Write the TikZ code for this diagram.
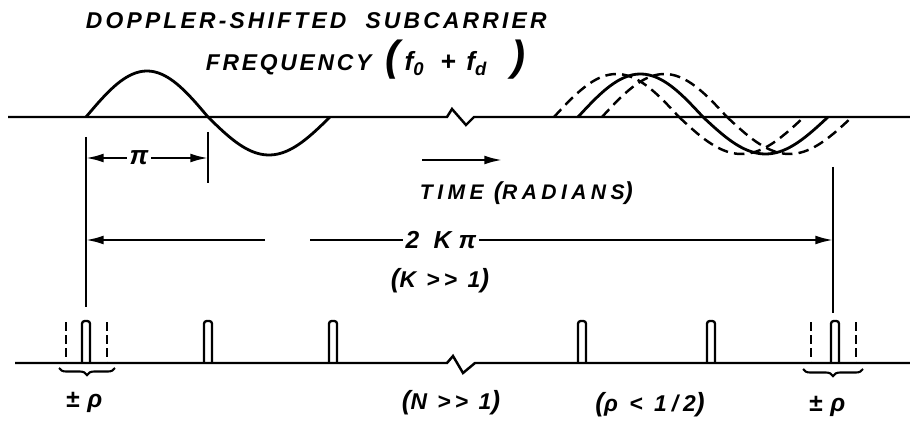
\documentclass[tikz,border=0pt]{standalone}
\usepackage{fontspec}
\setmainfont{Liberation Sans}
\usetikzlibrary{arrows.meta,decorations.pathreplacing}

\begin{document}
\begin{tikzpicture}[x=0.02cm, y=-0.02cm, line width=1.4pt,
  every node/.style={inner sep=1pt, font=\bfseries\itshape\fontsize{13}{15}\selectfont},
  wave/.style={line width=1.6pt},
  ghost/.style={line width=1.4pt, dash pattern=on 6pt off 3.5pt},
  dimline/.style={line width=1.2pt},
  tip/.style={-{Latex[length=10pt,width=5pt]}},
  pulse/.style={line width=1.3pt, rounded corners=1.5pt},
  pbrace/.style={decorate, decoration={brace, mirror, amplitude=4pt}}]
  \useasboundingbox (0,0) rectangle (910,429);

  % Time axis, broken in the middle
  \draw (8,117) -- (447,117) -- (452,109) -- (466,125) -- (474,117) -- (910,117);

  % Subcarrier, first cycle
  % these are plots in degrees, one half cycle each
  \draw[wave] plot[domain=0:180, samples=40] ({86+\x/180*122},{117-46*sin(\x)});
  \draw[wave] plot[domain=180:360, samples=40] ({86+\x/180*122},{117-38*sin(\x)});

  % Later cycle, solid, with its early and late copies dashed
  \foreach \sh/\sty in {0/wave, -24/ghost, 24/ghost} {
    \draw[\sty] plot[domain=0:180, samples=40] ({578+\sh+\x/180*125},{117-43*sin(\x)});
    \draw[\sty] plot[domain=180:360, samples=40] ({578+\sh+\x/180*125},{117-37*sin(\x)});
  }

  % Half period marker
  \coordinate (p0) at (86,158);
  \coordinate (p1) at (208,158);
  \draw[dimline] (86,137) -- (86,307);
  \draw[dimline] (208,132) -- (208,183);
  \node (halfp) at (139,158) {\fontsize{15}{15}\selectfont π};
  \draw[dimline, tip] (halfp) -- (p0);
  \draw[dimline, tip] (halfp) -- (p1);

  % Time direction
  \coordinate (tt0) at (422,160);
  \coordinate (tt1) at (502,160);
  \draw[dimline, tip] (tt0) -- (tt1);
  \node[anchor=west] (timelbl) at (417,193) {\addfontfeature{LetterSpace=21}\fontsize{12}{14}\selectfont TIME {\fontsize{14}{14}\selectfont(}RADIANS{\fontsize{14}{14}\selectfont)}};

  % Whole span 2 K pi
  \draw[dimline] (833,167) -- (833,313);
  \coordinate (s0) at (86,240);
  \coordinate (s1) at (833,240);
  \coordinate (gapL) at (265,240);
  \coordinate (gapR) at (310,240);
  \node (span) at (441,240) {\addfontfeature{LetterSpace=30}\fontsize{14}{14}\selectfont 2\ Kπ};
  \draw[dimline] (span.west) -- (gapR);
  \draw[dimline, tip] (gapL) -- (s0);
  \draw[dimline, tip] (span.east) -- (s1);
  \node (kbig) at (440,281) {\addfontfeature{LetterSpace=18}{\fontsize{15}{15}\selectfont(}K >{}> 1{\fontsize{15}{15}\selectfont)}};

  % Pulse train axis, broken in the middle
  \draw (15,363) -- (447,363) -- (453,356) -- (463,373) -- (475,363) -- (910,363);
  \foreach \px in {86,208,333,582,711,835}
    \draw[pulse] (\px-4,363) -- (\px-4,321) -- (\px+4,321) -- (\px+4,363);
  \foreach \dx in {66,107,811,856}
    \draw[ghost, dash pattern=on 5pt off 2.5pt] (\dx,322) -- (\dx,363);

  % Jitter braces
  \draw[pbrace, line width=1.2pt] (59,368) -- (115,368);
  \draw[pbrace, line width=1.2pt] (803,369) -- (863,369);

  % Lower labels
  \node (pmL) at (84,402) {\addfontfeature{LetterSpace=5}\fontsize{14}{14}\selectfont ± ρ};
  \node (pmR) at (827,406) {\addfontfeature{LetterSpace=5}\fontsize{14}{14}\selectfont ± ρ};
  \node (nbig) at (451,403) {\addfontfeature{LetterSpace=18}{\fontsize{15}{15}\selectfont(}N >{}> 1{\fontsize{15}{15}\selectfont)}};
  \node (rhosmall) at (650,405) {\addfontfeature{LetterSpace=22}{\fontsize{15}{15}\selectfont(}ρ < 1/2{\fontsize{15}{15}\selectfont)}};

  % Title
  \node[anchor=west] (ttlA) at (83,21) {\addfontfeature{LetterSpace=14}DOPPLER-SHIFTED\ \ SUBCARRIER};
  \node[anchor=west] (ttlB) at (203,60) {\addfontfeature{LetterSpace=12}FREQUENCY\hspace{8pt}{\fontsize{24}{24}\selectfont(}\hspace{3pt}{\fontsize{15}{15}\selectfont f\textsubscript{0}\hspace{9pt}+\hspace{6pt}f\textsubscript{d}}\hspace{14pt}{\fontsize{24}{24}\selectfont)}};

\end{tikzpicture}
\end{document}
